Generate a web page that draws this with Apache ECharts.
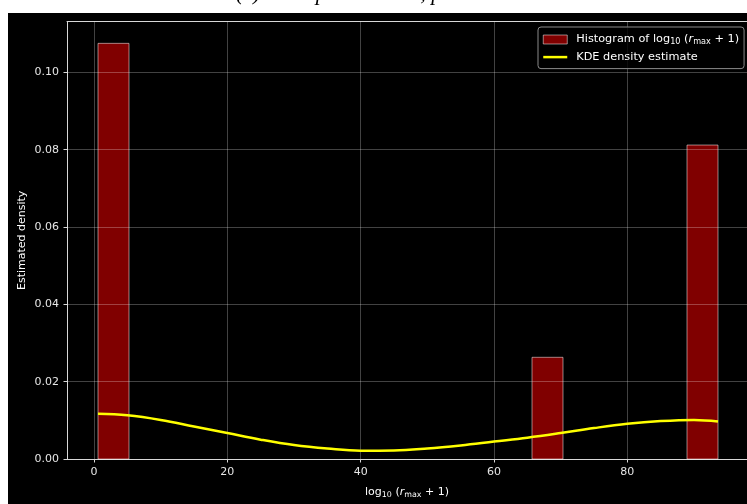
<!DOCTYPE html>
<html>
<head>
<meta charset="utf-8">
<script src="https://cdn.jsdelivr.net/npm/echarts@6/dist/echarts.min.js"></script>
<style>
  html, body { margin: 0; padding: 0; background: #ffffff; }
  #wrap { position: relative; width: 747px; height: 504px; overflow: hidden; }
  #figbg { position: absolute; left: 8px; top: 13px; right: 0; bottom: 0; background: #000000; }
  #chart { position: absolute; left: 0; top: 0; width: 747px; height: 504px; }
</style>
</head>
<body>
<div id="wrap">
  <div id="figbg"></div>
  <div id="chart"></div>
</div>
<script>
// Histogram bins (20 equal-width bins) and their densities
const binEdges = [0.6, 5.25, 9.9, 14.55, 19.2, 23.85, 28.5, 33.15, 37.8, 42.45, 47.1,
                  51.75, 56.4, 61.05, 65.7, 70.35, 75.0, 79.65, 84.3, 88.95, 93.6];
const binDensity = [0.1075, 0, 0, 0, 0, 0, 0, 0, 0, 0,
                    0, 0, 0, 0, 0.0263, 0, 0, 0, 0, 0.0812];

// Kernel density estimate curve
const kdeX = [0.6, 5, 10, 15, 20, 25, 30, 35, 40, 45, 50, 55, 60, 65, 70, 75, 80, 85, 90, 93.6];
const kdeY = [0.0117, 0.0113, 0.0101, 0.0084, 0.0067, 0.0050, 0.0036, 0.0027, 0.00215, 0.0022,
              0.0027, 0.0035, 0.0045, 0.0055, 0.0067, 0.0080, 0.0091, 0.0098, 0.0101, 0.0097];

// Axis ticks
const xTicks = [0, 20, 40, 60, 80];
const yTicks = [0, 0.02, 0.04, 0.06, 0.08, 0.10];

const histData = [];
for (let i = 0; i < binDensity.length; i++) {
  if (binDensity[i] > 0) histData.push([binEdges[i], binEdges[i + 1], binDensity[i]]);
}
const kdeData = kdeX.map((x, i) => [x, kdeY[i]]);

const FONT = 'DejaVu Sans';
const SPINE = '#d8d8d8';
function mathRich(size) {
  return {
    lead: { fontSize: size, fontFamily: FONT, color: '#ffffff', padding: [0, 0, 0, 4] },
    t: { fontSize: size, fontFamily: FONT, color: '#ffffff' },
    sub: { fontSize: size * 0.72, fontFamily: FONT, color: '#ffffff', padding: [5, 0, 0, 0] },
    it: { fontSize: size, fontFamily: FONT, fontStyle: 'italic', color: '#ffffff' }
  };
}

// x range: the axes box continues a little beyond the right edge of the figure
const X_MIN = -4.05, X_MAX = 97.95;

const chart = echarts.init(document.getElementById('chart'), null, { renderer: 'canvas' });
chart.setOption({
  animation: false,
  backgroundColor: 'transparent',
  graphic: [{
    type: 'text',
    left: 236,
    top: -17,
    silent: true,
    style: {
      text: '(c) Total peak counts, p = 0.9',
      fontFamily: 'Liberation Serif',
      fontStyle: 'italic',
      fontSize: 22,
      fill: '#000000'
    }
  }],
  grid: {
    left: 67, top: 21.7, right: 0, bottom: 40.7,
    show: true,
    backgroundColor: '#000000',
    borderWidth: 0
  },
  legend: {
    orient: 'vertical',
    left: 538,
    top: 27,
    padding: [7, 5, 6, 4],
    itemGap: 5.6,
    itemWidth: 24,
    itemHeight: 9,
    backgroundColor: 'rgba(0,0,0,0.8)',
    borderColor: '#8a8a8a',
    borderWidth: 1,
    borderRadius: 3,
    textStyle: { color: '#ffffff', fontSize: 11.3, fontFamily: FONT, rich: mathRich(11.3) },
    formatter: function (name) {
      if (name === 'hist') return '{lead|Histogram of log}{sub|10}{t| (}{it|r}{sub|max}{t| + 1)}';
      return '{lead|KDE density estimate}';
    },
    data: [
      { name: 'hist', icon: 'rect',
        itemStyle: { color: '#800000', borderColor: 'rgba(255,255,255,0.5)', borderWidth: 1 } },
      { name: 'kde',
        itemStyle: { color: 'rgba(0,0,0,0)', borderWidth: 0, opacity: 0 },
        lineStyle: { color: '#ffff00', width: 2.5 } }
    ]
  },
  xAxis: [{
    type: 'value',
    position: 'bottom',
    min: X_MIN,
    max: X_MAX,
    name: '{t|log}{sub|10}{t| (}{it|r}{sub|max}{t| + 1)}',
    nameLocation: 'middle',
    nameGap: 27,
    nameMoveOverlap: false,
    nameTextStyle: { rich: mathRich(11) },
    axisLine: { show: true, onZero: false, lineStyle: { color: SPINE, width: 1 } },
    axisTick: { show: true, customValues: xTicks, length: 3.5, lineStyle: { color: SPINE } },
    axisLabel: { customValues: xTicks, color: '#e6e6e6', fontSize: 11, fontFamily: FONT, margin: 8 },
    splitLine: { show: false }
  }, {
    type: 'value',
    position: 'top',
    min: X_MIN,
    max: X_MAX,
    axisLine: { show: true, onZero: false, lineStyle: { color: SPINE, width: 1 } },
    axisTick: { show: false },
    axisLabel: { show: false },
    splitLine: { show: false }
  }],
  yAxis: {
    type: 'value',
    min: 0,
    max: 0.1131,
    name: 'Estimated density',
    nameLocation: 'middle',
    nameGap: 39.5,
    nameMoveOverlap: false,
    nameTextStyle: { color: '#ffffff', fontSize: 11, fontFamily: FONT },
    axisLine: { show: true, onZero: false, lineStyle: { color: SPINE, width: 1 } },
    axisTick: { show: true, customValues: yTicks, length: 3.5, lineStyle: { color: SPINE } },
    axisLabel: {
      customValues: yTicks, color: '#e6e6e6', fontSize: 11, fontFamily: FONT, margin: 8,
      formatter: v => v.toFixed(2)
    },
    splitLine: { show: false }
  },
  series: [
    {
      name: 'hist',
      type: 'custom',
      z: 2,
      data: histData,
      encode: { x: [0, 1], y: 2 },
      itemStyle: { color: '#800000' },
      renderItem: function (params, api) {
        const p0 = api.coord([api.value(0), api.value(2)]);
        const p1 = api.coord([api.value(1), 0]);
        return {
          type: 'rect',
          shape: { x: p0[0], y: p0[1], width: p1[0] - p0[0], height: p1[1] - p0[1] },
          style: { fill: '#800000', stroke: 'rgba(255,255,255,0.5)', lineWidth: 1 }
        };
      }
    },
    {
      name: 'gridlines',
      type: 'line',
      z: 3,
      data: [],
      silent: true,
      markLine: {
        silent: true,
        z: 3,
        symbol: ['none', 'none'],
        label: { show: false },
        lineStyle: { color: 'rgba(255,255,255,0.33)', width: 0.8, type: 'solid' },
        emphasis: { disabled: true },
        data: xTicks.map(v => ({ xAxis: v })).concat(yTicks.filter(v => v > 0).map(v => ({ yAxis: v })))
      }
    },
    {
      name: 'kde',
      type: 'line',
      z: 5,
      data: kdeData,
      smooth: 0.4,
      symbol: 'none',
      showSymbol: false,
      itemStyle: { color: '#ffff00' },
      lineStyle: { color: '#ffff00', width: 2.5 }
    }
  ]
});
</script>
</body>
</html>
